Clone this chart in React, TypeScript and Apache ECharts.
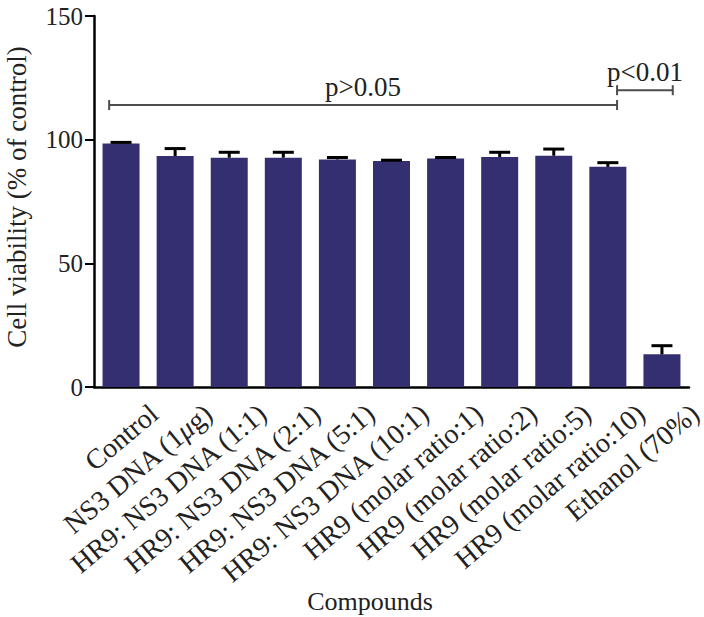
import React, { useEffect, useRef } from "react";
import * as echarts from "echarts";

const categories = [
  "Control",
  "NS3 DNA (1{i|μ}g)",
  "HR9: NS3 DNA (1:1)",
  "HR9: NS3 DNA (2:1)",
  "HR9: NS3 DNA (5:1)",
  "HR9: NS3 DNA (10:1)",
  "HR9 (molar ratio:1)",
  "HR9 (molar ratio:2)",
  "HR9 (molar ratio:5)",
  "HR9 (molar ratio:10)",
  "Ethanol (70%)",
];
const viability = [98.5, 93.4, 92.7, 92.7, 92.0, 91.4, 92.4, 93.0, 93.5, 89.0, 13.2];
const errors = [0.4, 3.0, 2.2, 2.2, 0.8, 0.3, 0.4, 1.9, 2.7, 1.7, 3.5];
const yMin = 0;
const yMax = 150;
const yInterval = 50;
const brackets = [
  { label: "p>0.05", from: -0.22, to: 9.17, level: 114 },
  { label: "p<0.01", from: 9.17, to: 10.2, level: 120 },
];
const yTitle = "Cell viability (% of control)";
const xTitle = "Compounds";

const FONT = "Liberation Serif";
const TXT = "#222";

export default function App() {
  const ref = useRef<HTMLDivElement>(null);
  useEffect(() => {
    if (!ref.current) return;
    const chart = echarts.init(ref.current, null, { renderer: "svg" });
    chart.setOption({
      animation: false,
      textStyle: { fontFamily: FONT },
      grid: { left: 94, right: 15, top: 16, bottom: 230, containLabel: false },
      xAxis: {
        type: "category",
        data: categories,
        axisLine: { lineStyle: { color: "#000", width: 2.5 } },
        axisTick: { alignWithLabel: true, length: 7, lineStyle: { color: "#000", width: 2 } },
        axisLabel: { show: false },
      },
      yAxis: {
        type: "value",
        min: yMin,
        max: yMax,
        interval: yInterval,
        axisLine: { show: true, lineStyle: { color: "#000", width: 2.5 } },
        axisTick: { show: true, length: 9, lineStyle: { color: "#000", width: 2 } },
        axisLabel: { fontSize: 25, fontFamily: FONT, color: TXT, margin: 11 },
        splitLine: { show: false },
      },
      series: [
        {
          type: "bar",
          data: viability,
          barWidth: 37,
          itemStyle: { color: "#342f70" },
          z: 2,
        },
        {
          type: "custom",
          data: viability.map((v, i) => [i, v, v + errors[i]]),
          encode: { x: 0, y: [1, 2] },
          z: 3,
          renderItem: (params: any, api: any) => {
            const x = api.value(0);
            const p0 = api.coord([x, api.value(1)]);
            const p1 = api.coord([x, api.value(2)]);
            return {
              type: "group",
              children: [
                { type: "line", shape: { x1: p0[0], y1: p0[1], x2: p1[0], y2: p1[1] }, style: { stroke: "#000", lineWidth: 3 } },
                { type: "line", shape: { x1: p1[0] - 10.5, y1: p1[1], x2: p1[0] + 10.5, y2: p1[1] }, style: { stroke: "#000", lineWidth: 3 } },
              ],
            };
          },
        },
      ],
    });

    const x0 = chart.convertToPixel({ xAxisIndex: 0 }, 0) as number;
    const x1 = chart.convertToPixel({ xAxisIndex: 0 }, 1) as number;
    const band = x1 - x0;
    const xAt = (f: number) => x0 + f * band;
    const yAt = (v: number) => chart.convertToPixel({ yAxisIndex: 0 }, v) as number;
    const axisY = yAt(0);

    const graphics: any[] = [];
    brackets.forEach((b) => {
      const xa = xAt(b.from);
      const xb = xAt(b.to);
      const y = yAt(b.level);
      const st = { stroke: "#4d4d4d", lineWidth: 2 };
      graphics.push({ type: "line", shape: { x1: xa, y1: y, x2: xb, y2: y }, style: st });
      graphics.push({ type: "line", shape: { x1: xa, y1: y - 5, x2: xa, y2: y + 5 }, style: st });
      graphics.push({ type: "line", shape: { x1: xb, y1: y - 5, x2: xb, y2: y + 5 }, style: st });
      graphics.push({
        type: "text",
        x: (xa + xb) / 2,
        y: y - 5,
        style: { text: b.label, fontSize: 27, fontFamily: FONT, fill: TXT, textAlign: "center", textVerticalAlign: "bottom" },
      });
    });
    categories.forEach((c, i) => {
      graphics.push({
        type: "text",
        x: xAt(i) + 24,
        y: axisY + 12,
        rotation: (40 * Math.PI) / 180,
        style: {
          text: c,
          fontSize: 28,
          fontFamily: FONT,
          fill: TXT,
          textAlign: "right",
          textVerticalAlign: "top",
          rich: { i: { fontStyle: "italic", fontSize: 28, fontFamily: FONT, fill: TXT } },
        },
      });
    });
    graphics.push({
      type: "text",
      x: 370,
      y: 601,
      style: { text: xTitle, fontSize: 26, fontFamily: FONT, fill: TXT, textAlign: "center", textVerticalAlign: "middle" },
    });
    graphics.push({
      type: "text",
      x: 17,
      y: 197,
      rotation: Math.PI / 2,
      style: { text: yTitle, fontSize: 27, fontFamily: FONT, fill: TXT, textAlign: "center", textVerticalAlign: "middle" },
    });
    chart.setOption({ graphic: graphics });

    return () => chart.dispose();
  }, []);
  return <div ref={ref} style={{ position: "absolute", left: 0, top: 0, width: 704, height: 617 }} />;
}
